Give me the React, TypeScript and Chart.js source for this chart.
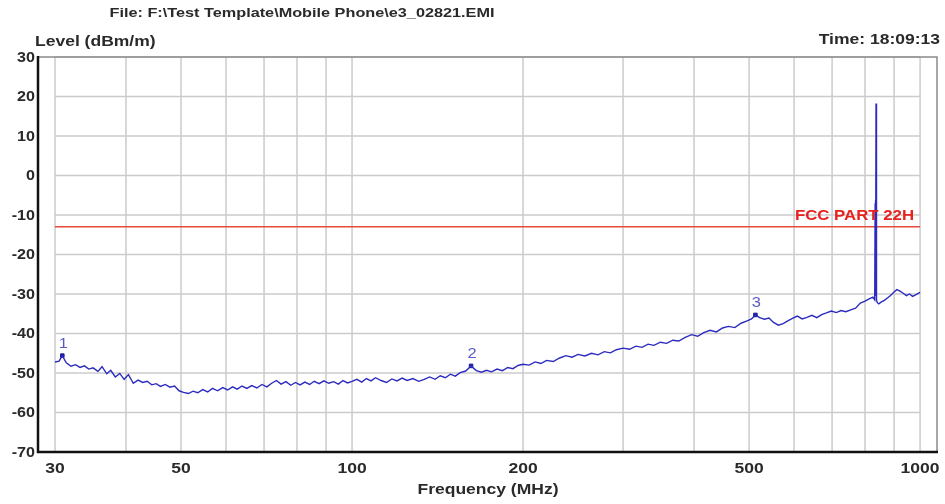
import { useEffect, useRef } from 'react';
import { Chart, registerables } from 'chart.js';

Chart.register(...registerables);

const titleText = 'File: F:\\Test Template\\Mobile Phone\\e3_02821.EMI';
const yAxisTitle = 'Level (dBm/m)';
const timeText = 'Time: 18:09:13';
const xAxisTitle = 'Frequency (MHz)';
const limitName = 'FCC PART 22H';

const freqs = [
  30, 30.5, 30.9, 31.4, 32, 32.6, 33.2, 33.8, 34.4, 35, 35.7, 36.3, 37, 37.6, 38.3, 39, 39.7, 40.4, 41.2, 42,
  42.8, 43.6, 44.4, 45.2, 46, 46.9, 47.8, 48.7, 49.6, 50.5,
  51.5, 52.5, 53.5, 54.6, 55.7, 56.8, 58, 59.2, 60.4, 61.6, 62.8, 64, 65.3, 66.6, 68, 69.4, 70.8, 72.2, 73.6, 75,
  76.5, 78, 79.5, 81, 82.6, 84.2, 85.8, 87.5, 89.2, 91, 92.8, 94.6, 96.4, 98.2, 100,
  102, 104, 106, 108, 110, 112.5, 115, 117.5, 120, 122.5, 125, 128, 131, 134, 137, 140, 143, 146, 149, 152,
  155, 158.5, 162, 165.5, 169, 172.5, 176, 180, 184, 188, 192, 196, 200,
  205, 210, 215, 220, 226, 232, 238, 244, 250, 257, 264, 271, 278, 285, 292, 300, 308, 316, 324, 332,
  340, 349, 358, 367, 376, 386, 396, 406, 416, 427, 438, 449, 460, 472, 484, 496, 505, 513,
  522, 532, 542, 552, 563, 574, 585, 596, 608, 620, 632, 645, 658, 671, 684, 698, 712, 726, 740, 755,
  770, 785, 800, 815, 826, 832, 833.5, 834.2, 835, 835.8, 836.5, 837.2, 838, 839, 841, 846, 855, 865, 876, 887,
  898, 910, 922, 934, 946, 958, 970, 982, 994, 1000,
];

const levels = [
  -47.2, -47.0, -45.6, -47.4, -48.3, -47.9, -48.6, -48.2, -49.0, -48.7, -49.6, -48.4, -50.2, -49.3, -51.0, -50.1, -51.6, -50.4, -52.6, -51.8,
  -52.4, -52.1, -53.0, -52.7, -53.4, -52.9, -53.6, -53.3, -54.5, -54.9,
  -55.2, -54.6, -55.0, -54.2, -54.8, -53.9, -54.5, -53.7, -54.3, -53.5, -54.1, -53.3, -53.9, -53.2, -53.8, -52.9, -53.5, -52.6, -51.9, -52.8,
  -52.2, -53.1, -52.4, -53.0, -52.3, -52.9, -52.1, -52.7, -52.0, -52.6, -52.2, -52.8, -51.9, -52.5, -52.1,
  -51.6, -52.3, -51.4, -52.0, -51.2, -51.9, -52.4, -51.5, -52.0, -51.3, -51.9, -51.4, -52.1, -51.6, -51.0, -51.6, -50.7, -51.2, -50.3, -50.8,
  -49.9, -49.5, -48.2, -49.4, -49.8, -49.3, -49.7, -49.0, -49.4, -48.6, -48.9, -48.1, -47.8,
  -48.0, -47.2, -47.6, -46.8, -47.1, -46.2, -45.6, -46.0, -45.3, -45.7, -45.0, -45.4, -44.6, -44.9, -44.1, -43.7, -44.0, -43.2, -43.5, -42.7,
  -43.0, -42.2, -42.5, -41.7, -41.9, -41.0, -40.3, -40.7, -39.8, -39.2, -39.6, -38.6, -38.2, -38.5, -37.4, -36.8, -36.3, -35.3,
  -36.0, -36.4, -36.1, -37.2, -37.9, -37.5, -36.8, -36.2, -35.6, -36.3, -35.9, -35.4, -36.0, -35.2, -34.8, -34.3, -34.7, -34.2, -34.5, -34.0,
  -33.6, -32.3, -31.8, -31.2, -30.8, -31.5, -7.0, -30.5, -6.2, -29.5, 18.2, -30.0, -8.0, -31.6, -32.2, -32.5, -32.0, -31.6, -31.0, -30.4,
  -29.6, -28.9, -29.3, -29.8, -30.4, -30.0, -30.6, -30.2, -29.8, -29.6,
];

const markerFreqs = [30.9, 162, 513];
const markerLevels = [-45.6, -48.2, -35.3];
const markerNames = ['1', '2', '3'];

const limitFreqs = [30, 1000];
const limitLevels = [-13, -13];

const yTicks = [30, 20, 10, 0, -10, -20, -30, -40, -50, -60, -70];
const xGridLines = [30, 40, 50, 60, 70, 80, 90, 100, 200, 300, 400, 500, 600, 700, 800, 900, 1000];
const xTickLabels = [30, 50, 100, 200, 500, 1000];

const FONT = 'Arial, "Liberation Sans", sans-serif';
const SX = 1.25;

function txt(ctx: CanvasRenderingContext2D, s: string, x: number, y: number, align: 'left' | 'center' | 'right', sx = SX) {
  const w = ctx.measureText(s).width * sx;
  const left = align === 'center' ? x - w / 2 : align === 'right' ? x - w : x;
  ctx.save();
  ctx.translate(left, y);
  ctx.scale(sx, 1);
  ctx.textAlign = 'left';
  ctx.fillText(s, 0, 0);
  ctx.restore();
}

const emiPlugin = {
  id: 'emiFrame',
  beforeDatasetsDraw(chart: any) {
    const { ctx, chartArea: a, scales } = chart;
    const x = scales.x;
    const y = scales.y;
    const x0 = x.getPixelForValue(xGridLines[0]);
    const x1 = x.getPixelForValue(xGridLines[xGridLines.length - 1]);
    ctx.save();
    ctx.strokeStyle = '#cbcbcb';
    ctx.lineWidth = 1.5;
    for (const f of xGridLines) {
      const px = x.getPixelForValue(f);
      ctx.beginPath();
      ctx.moveTo(px, a.top);
      ctx.lineTo(px, a.bottom);
      ctx.stroke();
    }
    for (const v of yTicks) {
      const py = y.getPixelForValue(v);
      ctx.beginPath();
      ctx.moveTo(x0, py);
      ctx.lineTo(x1, py);
      ctx.stroke();
    }
    ctx.restore();
  },
  afterDatasetsDraw(chart: any) {
    const { ctx, chartArea: a, scales } = chart;
    const x = scales.x;
    const y = scales.y;
    ctx.save();
    ctx.strokeStyle = '#8a8a8a';
    ctx.lineWidth = 1.5;
    ctx.beginPath();
    ctx.moveTo(a.left, a.top);
    ctx.lineTo(a.right, a.top);
    ctx.lineTo(a.right, a.bottom);
    ctx.stroke();
    ctx.strokeStyle = '#111';
    ctx.lineWidth = 2.5;
    ctx.beginPath();
    ctx.moveTo(a.left, a.top - 1);
    ctx.lineTo(a.left, a.bottom);
    ctx.lineTo(a.right + 1, a.bottom);
    ctx.stroke();

    ctx.fillStyle = '#2a2a2a';
    ctx.font = `bold 14px ${FONT}`;
    ctx.textBaseline = 'middle';
    for (const v of yTicks) {
      txt(ctx, String(v), a.left - 3, y.getPixelForValue(v) + 1, 'right', 1.15);
    }
    for (const f of xTickLabels) {
      txt(ctx, String(f), x.getPixelForValue(f), a.bottom + 17, 'center');
    }
    txt(ctx, xAxisTitle, 488, a.bottom + 38, 'center');
    ctx.font = `bold 13px ${FONT}`;
    txt(ctx, titleText, 302, 13, 'center');
    ctx.font = `bold 14px ${FONT}`;
    txt(ctx, yAxisTitle, a.left - 3, 42, 'left');
    txt(ctx, timeText, a.right + 3, 40, 'right');

    ctx.fillStyle = '#e8231f';
    txt(ctx, limitName, x.getPixelForValue(limitFreqs[1]) - 6, y.getPixelForValue(limitLevels[1]) - 11, 'right', 1.2);

    ctx.fillStyle = '#5a5ac8';
    ctx.font = `15px ${FONT}`;
    for (let i = 0; i < markerFreqs.length; i++) {
      txt(ctx, markerNames[i], x.getPixelForValue(markerFreqs[i]) + 1, y.getPixelForValue(markerLevels[i]) - 12, 'center', 1.1);
    }
    ctx.restore();
  },
};

export default function App() {
  const ref = useRef<HTMLCanvasElement>(null);
  useEffect(() => {
    document.body.style.margin = '0';
    const canvas = ref.current!;
    const chart = new Chart(canvas, {
      type: 'line',
      data: {
        datasets: [
          {
            label: 'Level',
            data: freqs.map((f, i) => ({ x: f, y: levels[i] })),
            borderColor: '#2b2bbf',
            borderWidth: 1.4,
            pointRadius: 0,
            tension: 0,
          },
          {
            label: limitName,
            data: limitFreqs.map((f, i) => ({ x: f, y: limitLevels[i] })),
            borderColor: '#e84a3c',
            borderWidth: 1.5,
            pointRadius: 0,
          },
          {
            label: 'Markers',
            data: markerFreqs.map((f, i) => ({ x: f, y: markerLevels[i] })),
            showLine: false,
            pointStyle: 'rect',
            pointRadius: 2.5,
            backgroundColor: '#1c1c9a',
            borderColor: '#1c1c9a',
          },
        ],
      },
      options: {
        responsive: false,
        animation: false,
        layout: { padding: { left: 38, right: 8, top: 57, bottom: 52 } },
        plugins: { legend: { display: false }, tooltip: { enabled: false } },
        scales: {
          x: { type: 'logarithmic', min: 28.0, max: 1071, display: false },
          y: { type: 'linear', min: -70, max: 30, display: false },
        },
      },
      plugins: [emiPlugin],
    });
    return () => chart.destroy();
  }, []);
  return (
    <div style={{ width: 945, height: 504 }}>
      <canvas ref={ref} width={945} height={504} style={{ display: 'block' }} />
    </div>
  );
}
